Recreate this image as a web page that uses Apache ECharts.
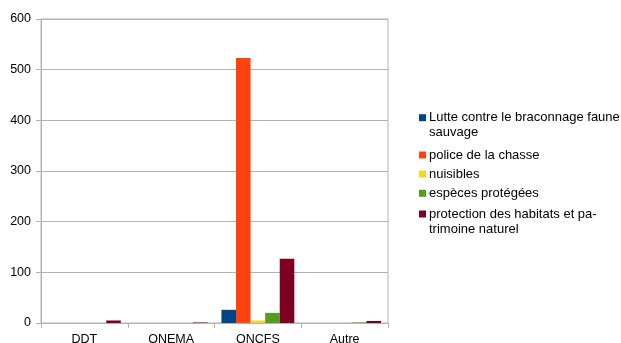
<!DOCTYPE html>
<html><head><meta charset="utf-8">
<script src="https://cdn.jsdelivr.net/npm/echarts@6/dist/echarts.min.js"></script>
<style>html,body{margin:0;padding:0;background:#fff}#c{width:621px;height:343px}</style>
</head><body><div id="c"></div>
<script>
const categories = ['DDT', 'ONEMA', 'ONCFS', 'Autre'];
const seriesNames = ['Lutte contre le braconnage faune sauvage', 'police de la chasse', 'nuisibles', 'espèces protégées', 'protection des habitats et patrimoine naturel'];
const legendLabels = ['Lutte contre le braconnage faune\nsauvage', 'police de la chasse', 'nuisibles', 'espèces protégées', 'protection des habitats et pa-\ntrimoine naturel'];
const lutte = [0, 0, 26, 0];
const police = [0, 0, 523, 0];
const nuisibles = [0, 0, 5, 0];
const especes = [0, 0, 20, 1];
const protection = [5, 1, 127, 4];
const yTicks = [0, 100, 200, 300, 400, 500, 600];
const colors = ['#004586', '#ff420e', '#ffd320', '#579d1c', '#7e0021'];
const values = [lutte, police, nuisibles, especes, protection];

// legend layout: icon centre y of each item (first text line)
const legendIconY = [117.7, 155, 174, 193.3, 214];

const chart = echarts.init(document.getElementById('c'), null, {renderer: 'canvas'});
const font = 'Liberation Sans';
const legends = seriesNames.map((n, i) => {
  const twoLines = legendLabels[i].indexOf('\n') >= 0;
  return {
    orient: 'vertical', left: 419, top: twoLines ? legendIconY[i] - 22.5 : legendIconY[i] - 7.5,
    padding: 0,
    itemWidth: 7, itemHeight: 7, itemGap: 0,
    icon: 'rect',
    data: [n],
    formatter: function (nm) {
      const t = legendLabels[seriesNames.indexOf(nm)];
      return t.indexOf('\n') >= 0 ? ' \n' + t : t;
    },
    textStyle: {fontFamily: font, fontSize: 13, color: '#000', lineHeight: 15, padding: [0, 0, 0, -2]}
  };
});
chart.setOption({
  animation: false,
  color: colors,
  grid: {left: 41, top: 19, right: 233, bottom: 20, show: true, borderColor: '#b3b3b3', borderWidth: 1, containLabel: false, outerBoundsMode: 'none'},
  legend: legends,
  xAxis: {
    type: 'category', data: categories,
    axisLine: {lineStyle: {color: '#b3b3b3'}},
    axisTick: {show: true, length: 5, lineStyle: {color: '#b3b3b3'}},
    axisLabel: {fontFamily: font, fontSize: 12.5, color: '#000', margin: 10}
  },
  yAxis: {
    type: 'value', min: yTicks[0], max: yTicks[yTicks.length - 1], interval: 100,
    axisLine: {show: true, lineStyle: {color: '#b3b3b3'}},
    axisTick: {show: true, length: 5, lineStyle: {color: '#b3b3b3'}},
    splitLine: {lineStyle: {color: '#b3b3b3'}},
    axisLabel: {fontFamily: font, fontSize: 12.5, color: '#000', margin: 10}
  },
  series: seriesNames.map((n, i) => ({
    name: n, type: 'bar', data: values[i],
    barGap: '0%', barCategoryGap: '16%',
    itemStyle: {color: colors[i]}
  }))
});
</script></body></html>
